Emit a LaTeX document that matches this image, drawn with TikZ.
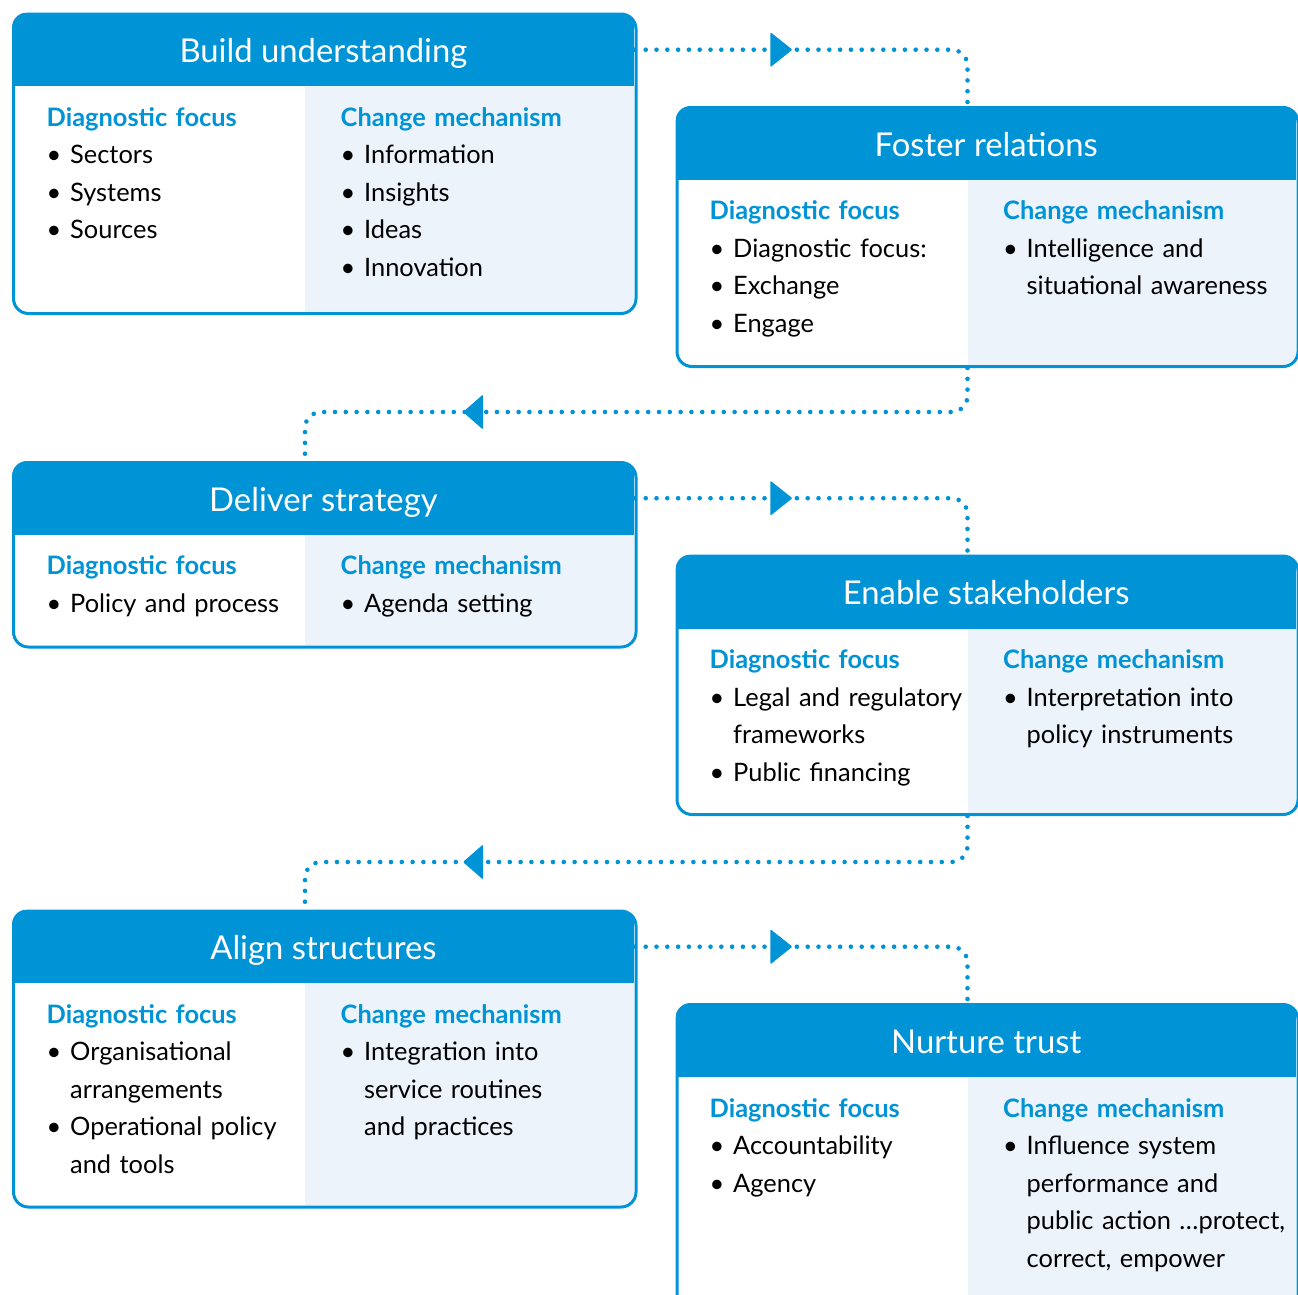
\documentclass[tikz,border=0pt]{standalone}
\usepackage{fontspec}
\setmainfont{Lato}
\usetikzlibrary{calc}
\definecolor{bblue}{RGB}{0,147,214}
\definecolor{lfill}{RGB}{236,243,251}
\newcommand\bodyfont{\fontsize{25.4}{37.5}\selectfont}
\newcommand\hd[1]{\strut{\bfseries\color{bblue}#1}\par}
\newcommand\bl{\par\hangindent=23.5pt\hangafter=1\noindent\makebox[23.5pt][l]{\textbullet}}
\newcommand\nl{\hfil\break}
\tikzset{
  outline/.style={draw=bblue, line width=3pt, rounded corners=15pt, inner sep=0pt, anchor=north west},
  header/.style={text=white, font=\fontsize{32.8}{38}\selectfont, inner sep=0pt, text height=50pt, text depth=24pt, anchor=north west},
  panel/.style={inner sep=0pt, anchor=north west},
  col/.style={anchor=north west, inner sep=0pt, text width=300pt, align=left, font=\bodyfont},
  conn/.style={draw=bblue, line width=4.6pt, line cap=round, dash pattern=on 0pt off 10.8pt, rounded corners=16pt},
}
% #1 name, #2 x1, #3 y1, #4 header bottom, #5 y2, #6 split, #7 x2, #8 title
\newcommand\stage[8]{%
  \begin{scope}
    \clip[rounded corners=15pt] (#2,#3) rectangle (#7,#5);
    \fill[bblue] (#2,#3) rectangle (#7,#4);
    \fill[white] (#2,#4) rectangle (#6,#5);
    \fill[lfill] (#6,#4) rectangle (#7,#5);
  \end{scope}
  \node[outline, minimum width={#7-#2}, minimum height={#5-#3}] (b#1) at (#2,#3) {};
  \node[header, minimum width={#7-#2}] (h#1) at (#2,#3) {#8};
  \node[panel, minimum width={#7-#6}, minimum height={#5-#4}] (r#1) at (#6,#4) {};
}
\newcommand\rtri[1]{\fill[bblue, rounded corners=1pt] ($(#1)+(-22,-17.5)$) -- (#1) -- ($(#1)+(-22,17.5)$) -- cycle;}
\newcommand\ltri[1]{\fill[bblue, rounded corners=1pt] ($(#1)+(20,-17.5)$) -- (#1) -- ($(#1)+(20,17.5)$) -- cycle;}
\begin{document}
\begin{tikzpicture}[x=1pt, y=-1pt]
\clip (0,0) rectangle (1298,1294);
\useasboundingbox (0,0) rectangle (1298,1294);

\stage{1}{12}{12.5}{86}{312}{305}{634.5}{Build understanding}
\stage{2}{675.5}{106}{179.5}{365}{967.5}{1296.5}{Foster relations}
\stage{3}{12}{461}{534.5}{645.5}{305}{634.5}{Deliver strategy}
\stage{4}{675.5}{554.5}{628.5}{813}{967.5}{1296.5}{Enable stakeholders}
\stage{5}{12}{909.5}{983}{1205.5}{305}{634.5}{Align structures}
\stage{6}{675.5}{1003}{1077}{1340}{967.5}{1296.5}{Nurture trust}

% columns: north = heading baseline - 26.25
\node[col] (l1) at (46.5,100) {\hd{Diagnostic focus}\bl Sectors\bl Systems\bl Sources\par};
\node[col] (c1) at (340.5,100) {\hd{Change mechanism}\bl Information\bl Insights\bl Ideas\bl Innovation\par};

\node[col] (l2) at (709.5,193.5) {\hd{Diagnostic focus}\bl Diagnostic focus:\bl Exchange\bl Engage\par};
\node[col] (c2) at (1003,193.5) {\hd{Change mechanism}\bl Intelligence and\nl situational awareness\par};

\node[col] (l3) at (46.5,548.5) {\hd{Diagnostic focus}\bl Policy and process\par};
\node[col] (c3) at (340.5,548.5) {\hd{Change mechanism}\bl Agenda setting\par};

\node[col] (l4) at (709.5,642.5) {\hd{Diagnostic focus}\bl Legal and regulatory\nl frameworks\bl Public financing\par};
\node[col] (c4) at (1003,642.5) {\hd{Change mechanism}\bl Interpretation into\nl policy instruments\par};

\node[col] (l5) at (46.5,997) {\hd{Diagnostic focus}\bl Organisational\nl arrangements\bl Operational policy\nl and tools\par};
\node[col] (c5) at (340.5,997) {\hd{Change mechanism}\bl Integration into\nl service routines\nl and practices\par};

\node[col] (l6) at (709.5,1091) {\hd{Diagnostic focus}\bl Accountability\bl Agency\par};
\node[col] (c6) at (1003,1091) {\hd{Change mechanism}\bl Influence system\nl performance and\nl public action …protect,\nl correct, empower\par};

% connectors
\coordinate (m2) at (640,412);
\coordinate (m4) at (640,862);
\draw[conn] (h1.east) -| (h2.north -| r2.west);
\draw[conn] (b2.south -| r2.west) |- (m2) -| (h3.north -| r3.west);
\draw[conn] (h3.east) -| (h4.north -| r4.west);
\draw[conn] (b4.south -| r4.west) |- (m4) -| (h5.north -| r5.west);
\draw[conn] (h5.east) -| (h6.north -| r6.west);

\coordinate (a1) at ($(h1.east)+(157.5,0)$);
\coordinate (a3) at ($(h3.east)+(157.5,0)$);
\coordinate (a5) at ($(h5.east)+(157.5,0)$);
\coordinate (a2) at ($(m2)+(-177,0)$);
\coordinate (a4) at ($(m4)+(-177,0)$);
\rtri{a1}\rtri{a3}\rtri{a5}
\ltri{a2}\ltri{a4}
\end{tikzpicture}
\end{document}
